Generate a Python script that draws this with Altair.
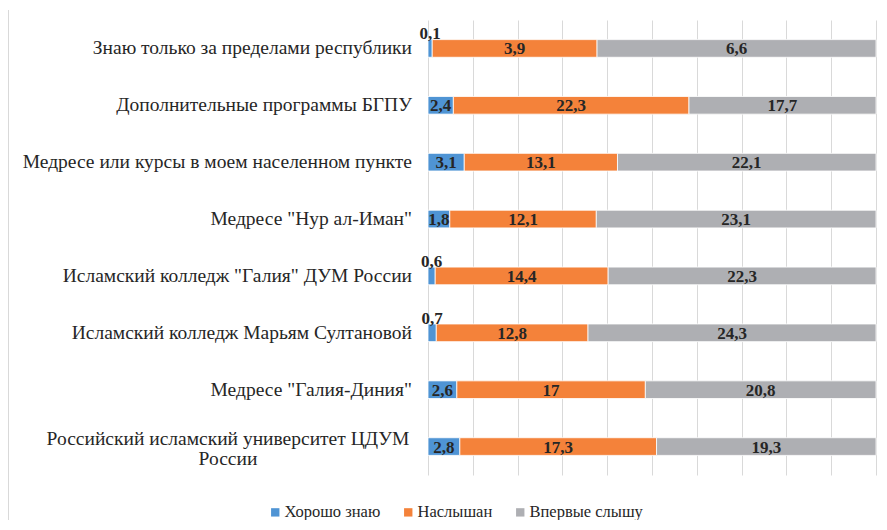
import altair as alt
import pandas as pd

categories = [
    "Знаю только за пределами республики",
    "Дополнительные программы БГПУ",
    "Медресе или курсы в моем населенном пункте",
    "Медресе \"Нур ал-Иман\"",
    "Исламский колледж \"Галия\" ДУМ России",
    "Исламский колледж Марьям Султановой",
    "Медресе \"Галия-Диния\"",
    "Российский исламский университет ЦДУМ России",
]
label_lines = [
    "Знаю только за пределами республики",
    "Дополнительные программы БГПУ",
    "Медресе или курсы в моем населенном пункте",
    "Медресе \"Нур ал-Иман\"",
    "Исламский колледж \"Галия\" ДУМ России",
    "Исламский колледж Марьям Султановой",
    "Медресе \"Галия-Диния\"",
    "Российский исламский университет ЦДУМ|России",
]
series = ["Хорошо знаю", "Наслышан", "Впервые слышу"]
good = [0.1, 2.4, 3.1, 1.8, 0.6, 0.7, 2.6, 2.8]
heard = [3.9, 22.3, 13.1, 12.1, 14.4, 12.8, 17.0, 17.3]
first = [6.6, 17.7, 22.1, 23.1, 22.3, 24.3, 20.8, 19.3]
colors = ["#4F94D4", "#F4823A", "#AEAFB3"]

FONT = "Liberation Serif"

rows = []
for i, c in enumerate(categories):
    for j, (s, vals) in enumerate(zip(series, [good, heard, first])):
        rows.append({"cat": c, "series": s, "order": j, "value": vals[i]})
df = pd.DataFrame(rows)
lab_df = pd.DataFrame({"cat": categories, "lab": label_lines,
                       "multi": [("|" in l) for l in label_lines]})

yenc = alt.Y("cat:N", sort=categories, axis=None,
             scale=alt.Scale(paddingInner=0.69, paddingOuter=0.345))

base = alt.Chart(df).transform_stack(
    stack="value", groupby=["cat"], as_=["s0", "s1"], offset="normalize",
    sort=[alt.SortField("order")]
).transform_calculate(
    mid="(datum.s0 + datum.s1) / 2",
    txt="replace(format(datum.value, '.1~f'), '.', ',')"
)

bars = base.mark_bar(stroke="white", strokeWidth=0.8).encode(
    x=alt.X("s0:Q", scale=alt.Scale(domain=[0, 1]),
            axis=alt.Axis(values=[i / 10 for i in range(11)], labels=False,
                          ticks=False, domain=False, title=None,
                          grid=True, gridColor="#D9D9D9", gridWidth=1)),
    x2="s1:Q",
    y=yenc,
    color=alt.Color("series:N", sort=series,
                    scale=alt.Scale(domain=series, range=colors),
                    legend=alt.Legend(orient="none", direction="horizontal",
                                      legendX=-161, legendY=484, title=None,
                                      symbolType="square", symbolSize=70,
                                      symbolStrokeWidth=0,
                                      labelFont=FONT,
                                      labelFontSize=16.5, labelColor="#262626",
                                      columnPadding=19, labelOffset=1)),
    order=alt.Order("order:Q"),
)

txt_in = base.transform_filter("datum.value >= 1").mark_text(
    font=FONT, fontWeight="bold", fontSize=17, color="#262626",
    baseline="middle", dy=1
).encode(x="mid:Q", y=yenc, text="txt:N")

txt_out = base.transform_filter("datum.value < 1").mark_text(
    font=FONT, fontWeight="bold", fontSize=17, color="#262626",
    baseline="middle", dy=-14
).encode(x="mid:Q", y=yenc, text="txt:N")

labels_single = alt.Chart(lab_df).transform_filter("!datum.multi").mark_text(
    font=FONT, fontSize=19.5, color="#262626", align="right",
    baseline="middle"
).encode(x=alt.value(-16), y=yenc, text="lab:N")

labels_multi = alt.Chart(lab_df).transform_filter("datum.multi").transform_calculate(
    parts="split(datum.lab, '|')"
).mark_text(
    font=FONT, fontSize=19.5, color="#262626", align="center",
    baseline="middle", lineHeight=20, dy=-8
).encode(x=alt.value(-200), y=yenc, text="parts:N")

frame = alt.Chart(pd.DataFrame({"v": [0]})).mark_rule(
    color="#D9D9D9", strokeWidth=1
).encode(x=alt.value(-419.5), y=alt.value(-10), y2=alt.value(505))

chart = alt.layer(bars, txt_in, txt_out, labels_single, labels_multi, frame).properties(
    width=448, height=455,
    autosize=alt.AutoSizeParams(type="none"),
    padding={"left": 420, "top": 12, "right": 3, "bottom": 45},
).configure_view(stroke=None)

chart.save("out.html", embed_options={"renderer": "svg", "actions": False})
